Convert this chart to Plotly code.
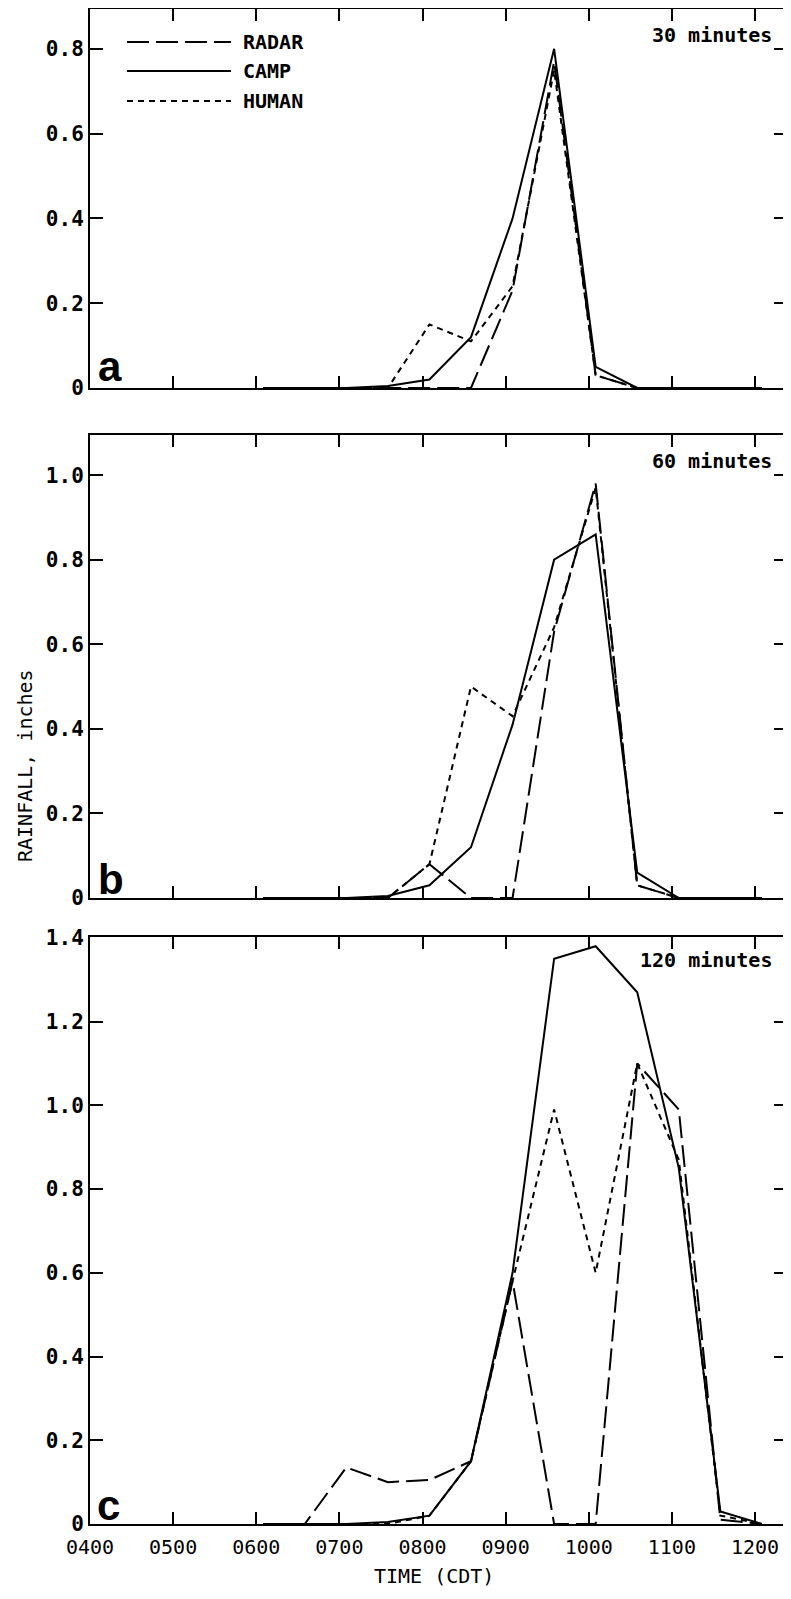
import plotly.graph_objects as go

# ---------------- data ----------------
TIMES = ["0605", "0635", "0705", "0735", "0805", "0835", "0905",
         "0935", "1005", "1035", "1105", "1135", "1205"]

# panel a: 30 minutes
RADAR_30 = [0, 0, 0, 0, 0, 0, 0.23, 0.77, 0.03, 0, 0, 0, 0]
CAMP_30 = [0, 0, 0, 0.005, 0.02, 0.12, 0.40, 0.80, 0.05, 0, 0, 0, 0]
HUMAN_30 = [0, 0, 0, 0, 0.15, 0.11, 0.24, 0.75, 0.03, 0, 0, 0, 0]

# panel b: 60 minutes
RADAR_60 = [0, 0, 0, 0, 0.08, 0, 0, 0.63, 0.98, 0.03, 0, 0, 0]
CAMP_60 = [0, 0, 0, 0.005, 0.03, 0.12, 0.41, 0.80, 0.86, 0.06, 0, 0, 0]
HUMAN_60 = [0, 0, 0, 0, 0.08, 0.50, 0.43, 0.64, 0.97, 0.03, 0, 0, 0]

# panel c: 120 minutes
RADAR_120 = [0, 0, 0.135, 0.10, 0.105, 0.15, 0.58, 0, 0, 1.10, 0.99, 0.01, 0]
CAMP_120 = [0, 0, 0, 0.005, 0.02, 0.15, 0.60, 1.35, 1.38, 1.27, 0.85, 0.03, 0]
HUMAN_120 = [0, 0, 0, 0, 0.02, 0.15, 0.58, 0.99, 0.60, 1.10, 0.87, 0.02, 0]

SERIES_NAMES = ["RADAR", "CAMP", "HUMAN"]
PANEL_LETTERS = ["a", "b", "c"]
DURATIONS = ["30 minutes", "60 minutes", "120 minutes"]

Y_TICKS_30 = [0, 0.2, 0.4, 0.6, 0.8]
Y_TICKS_60 = [0, 0.2, 0.4, 0.6, 0.8, 1.0]
Y_TICKS_120 = [0, 0.2, 0.4, 0.6, 0.8, 1.0, 1.2, 1.4]
Y_MAX = [0.894, 1.095, 1.402]

X_TICK_HOURS = [4, 5, 6, 7, 8, 9, 10, 11, 12]
X_TICK_LABELS = ["0400", "0500", "0600", "0700", "0800", "0900", "1000", "1100", "1200"]
X_RANGE = [4.0, 12.385]

X_TITLE = "TIME (CDT)"
Y_TITLE = "RAINFALL, inches"

# ---------------- layout geometry ----------------
# The page body has an 8 px margin, so the figure sits at (8, 8) on the page.
# Positions below are page pixels, converted to paper coordinates.
OFF = 8
W, H = 783, 1583
PLOT_LEFT, PLOT_RIGHT, PLOT_TOP, PLOT_BOTTOM = 90, 787, 9, 1524  # page px
L = PLOT_LEFT - OFF
T = PLOT_TOP - OFF
R = W - (PLOT_RIGHT - OFF)
B = H - (PLOT_BOTTOM - OFF)
PW, PH = W - L - R, H - T - B


def px(xp):
    return (xp - PLOT_LEFT) / PW


def py(yp):
    return (PLOT_BOTTOM - yp) / PH


PANEL_PIX = [(9, 388), (435, 898), (937, 1524)]
DOMAINS = [[max(0.0, py(b)), min(1.0, py(t))] for t, b in PANEL_PIX]

FONT = "DejaVu Sans Mono"
STYLE = {
    "RADAR": dict(color="black", width=2, dash="22px,7px"),
    "CAMP": dict(color="black", width=2, dash="solid"),
    "HUMAN": dict(color="black", width=2, dash="6px,5px"),
}

hours = [int(t[:2]) + int(t[2:]) / 60 for t in TIMES]
panels = [
    (RADAR_30, CAMP_30, HUMAN_30, Y_TICKS_30),
    (RADAR_60, CAMP_60, HUMAN_60, Y_TICKS_60),
    (RADAR_120, CAMP_120, HUMAN_120, Y_TICKS_120),
]

fig = go.Figure()
layout = dict(
    template="none",
    width=W, height=H,
    margin=dict(l=L, r=R, t=T, b=B, pad=0, autoexpand=False),
    paper_bgcolor="white", plot_bgcolor="white",
    showlegend=False,
    font=dict(family=FONT, size=20, color="black"),
)

annotations = []
shapes = []

for i, (rad, camp, hum, yt) in enumerate(panels):
    n = "" if i == 0 else str(i + 1)
    for name, vals in zip(SERIES_NAMES, (rad, camp, hum)):
        fig.add_trace(go.Scatter(
            x=hours, y=vals, mode="lines", name=name,
            line=STYLE[name], xaxis="x" + n, yaxis="y" + n,
        ))
    layout["xaxis" + n] = dict(
        domain=[0, 1], anchor="y" + n, range=X_RANGE, automargin=False,
        tickvals=X_TICK_HOURS, ticktext=X_TICK_LABELS,
        showticklabels=(i == 2), ticklabelstandoff=4,
        ticks="inside", ticklen=12, tickwidth=2, tickcolor="black",
        showline=True, linewidth=2, linecolor="black", mirror="ticks",
        showgrid=False, zeroline=False,
        tickfont=dict(family=FONT, size=20, color="black"),
    )
    layout["yaxis" + n] = dict(
        domain=DOMAINS[i], anchor="x" + n, range=[0, Y_MAX[i]], automargin=False,
        tickvals=yt, ticktext=["0" if v == 0 else f"{v:.1f}" for v in yt],
        ticks="inside", ticklen=13, tickwidth=2, tickcolor="black",
        showline=True, linewidth=2, linecolor="black", mirror="ticks",
        showgrid=False, zeroline=False,
        tickfont=dict(family=FONT, size=21, color="black", weight="bold"),
    )

# panel letters
LETTER_POS = [(96, 366), (96, 879), (95, 1505)]
for letter, (lx, ly) in zip(PANEL_LETTERS, LETTER_POS):
    annotations.append(dict(
        text=letter, xref="paper", yref="paper", x=px(lx), y=py(ly),
        xanchor="left", yanchor="middle", showarrow=False,
        font=dict(family="Liberation Sans", size=42, color="black", weight="bold"),
    ))

# duration labels
DUR_Y = [35, 461, 960]
for d, dy in zip(DURATIONS, DUR_Y):
    annotations.append(dict(
        text=d, xref="paper", yref="paper", x=px(774), y=py(dy),
        xanchor="right", yanchor="middle", showarrow=False,
        font=dict(family=FONT, size=20, color="black", weight="bold"),
    ))

# legend (drawn in panel a)
LEG_Y = [42, 71, 101]
for name, ly in zip(SERIES_NAMES, LEG_Y):
    shapes.append(dict(
        type="line", xref="paper", yref="paper",
        x0=px(127), x1=px(231), y0=py(ly), y1=py(ly),
        line=STYLE[name],
    ))
    annotations.append(dict(
        text=name, xref="paper", yref="paper", x=px(241), y=py(ly),
        xanchor="left", yanchor="middle", showarrow=False,
        font=dict(family=FONT, size=20, color="black", weight="bold"),
    ))

# axis titles
annotations.append(dict(
    text=Y_TITLE, xref="paper", yref="paper", x=px(25), y=py(766),
    xanchor="center", yanchor="middle", textangle=-90, showarrow=False,
    font=dict(family=FONT, size=20, color="black"),
))
annotations.append(dict(
    text=X_TITLE, xref="paper", yref="paper", x=px(434), y=py(1576),
    xanchor="center", yanchor="middle", showarrow=False,
    font=dict(family=FONT, size=20, color="black"),
))

layout["annotations"] = annotations
layout["shapes"] = shapes
fig.update_layout(**layout)
fig.write_html("out.html")
